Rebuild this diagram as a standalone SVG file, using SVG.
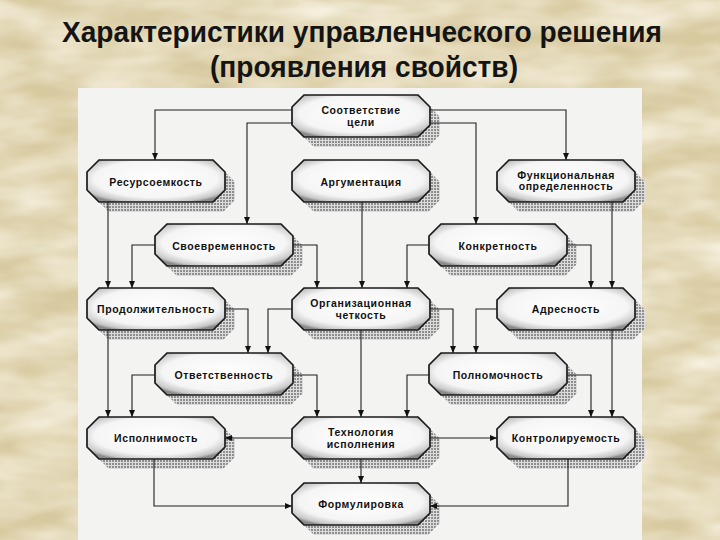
<svg xmlns="http://www.w3.org/2000/svg" width="720" height="540" viewBox="0 0 720 540">
<defs>
<style>
.t{font-family:"Liberation Sans",Arial,sans-serif;font-weight:bold;font-size:10.5px;letter-spacing:0.6px;text-anchor:middle;fill:#111}
.title{font-family:"Liberation Sans",Arial,sans-serif;font-weight:bold;font-size:29px;text-anchor:middle;fill:#141414}
.box{fill:url(#boxg);stroke:#1a1a1a;stroke-width:1.7}
.sh{fill:url(#hatch)}
.c{fill:none;stroke:#1e1e1e;stroke-width:1.1;marker-end:url(#ah)}
</style>
<filter id="tex" x="0" y="0" width="100%" height="100%">
<feTurbulence type="fractalNoise" baseFrequency="0.012 0.035" numOctaves="3" seed="7"/>
<feColorMatrix type="matrix" values="0 0 0 0 0.95  0 0 0 0 0.91  0 0 0 0 0.79  0 0 0 -1.4 1.05"/>
</filter>
<radialGradient id="boxg" cx="50%" cy="45%" r="62%">
<stop offset="0" stop-color="#ffffff"/>
<stop offset="0.72" stop-color="#f5f5f5"/>
<stop offset="0.92" stop-color="#c8c8c8"/>
<stop offset="1" stop-color="#8a8a8a"/>
</radialGradient>
<pattern id="hatch" width="3" height="3" patternUnits="userSpaceOnUse">
<rect width="3" height="3" fill="#dcdcdc"/>
<rect width="2" height="2" fill="#8e8e8e"/>
</pattern>
<path id="oct" d="M12,0 H126 L138,12 V30 L126,42 H12 L0,30 V12 Z"/>
<marker id="ah" markerWidth="7" markerHeight="6" refX="7" refY="3" orient="auto" markerUnits="userSpaceOnUse">
<path d="M0,0 L7,3 L0,6 Z" fill="#111"/>
</marker>
</defs>

<rect width="720" height="540" fill="#d8caa0"/>
<rect width="720" height="540" filter="url(#tex)"/>
<rect x="78" y="88" width="564" height="452" fill="#f3f3f1"/>

<text class="title" x="362" y="42" textLength="600" lengthAdjust="spacingAndGlyphs">Характеристики управленческого решения</text>
<text class="title" x="364" y="77" textLength="308" lengthAdjust="spacingAndGlyphs">(проявления свойств)</text>

<g id="n-sootvetstvie" transform="translate(292,95)">
<use href="#oct" class="sh" x="10" y="10"/><use href="#oct" class="box"/>
<text class="t" x="69" y="19">Соответствие</text><text class="t" x="69" y="31">цели</text>
</g>
<g id="n-resursoemkost" transform="translate(87,160)">
<use href="#oct" class="sh" x="10" y="10"/><use href="#oct" class="box"/>
<text class="t" x="69" y="26">Ресурсоемкость</text>
</g>
<g id="n-argumentaciya" transform="translate(292,160)">
<use href="#oct" class="sh" x="10" y="10"/><use href="#oct" class="box"/>
<text class="t" x="69" y="26">Аргументация</text>
</g>
<g id="n-funkcionalnaya" transform="translate(497,160)">
<use href="#oct" class="sh" x="10" y="10"/><use href="#oct" class="box"/>
<text class="t" x="69" y="19">Функциональная</text><text class="t" x="69" y="30">определенность</text>
</g>
<g id="n-svoevremennost" transform="translate(155,224)">
<use href="#oct" class="sh" x="10" y="10"/><use href="#oct" class="box"/>
<text class="t" x="69" y="26">Своевременность</text>
</g>
<g id="n-konkretnost" transform="translate(429,224)">
<use href="#oct" class="sh" x="10" y="10"/><use href="#oct" class="box"/>
<text class="t" x="69" y="26">Конкретность</text>
</g>
<g id="n-prodolzhitelnost" transform="translate(87,288)">
<use href="#oct" class="sh" x="10" y="10"/><use href="#oct" class="box"/>
<text class="t" x="69" y="25">Продолжительность</text>
</g>
<g id="n-organizacionnaya" transform="translate(292,288)">
<use href="#oct" class="sh" x="10" y="10"/><use href="#oct" class="box"/>
<text class="t" x="69" y="19">Организационная</text><text class="t" x="69" y="31">четкость</text>
</g>
<g id="n-adresnost" transform="translate(497,288)">
<use href="#oct" class="sh" x="10" y="10"/><use href="#oct" class="box"/>
<text class="t" x="69" y="25">Адресность</text>
</g>
<g id="n-otvetstvennost" transform="translate(155,353)">
<use href="#oct" class="sh" x="10" y="10"/><use href="#oct" class="box"/>
<text class="t" x="69" y="26">Ответственность</text>
</g>
<g id="n-polnomochnost" transform="translate(429,353)">
<use href="#oct" class="sh" x="10" y="10"/><use href="#oct" class="box"/>
<text class="t" x="69" y="26">Полномочность</text>
</g>
<g id="n-ispolnimost" transform="translate(87,417)">
<use href="#oct" class="sh" x="10" y="10"/><use href="#oct" class="box"/>
<text class="t" x="69" y="25">Исполнимость</text>
</g>
<g id="n-tehnologiya" transform="translate(292,417)">
<use href="#oct" class="sh" x="10" y="10"/><use href="#oct" class="box"/>
<text class="t" x="69" y="19">Технология</text><text class="t" x="69" y="31">исполнения</text>
</g>
<g id="n-kontroliruemost" transform="translate(497,417)">
<use href="#oct" class="sh" x="10" y="10"/><use href="#oct" class="box"/>
<text class="t" x="69" y="25">Контролируемость</text>
</g>
<g id="n-formulirovka" transform="translate(292,483)">
<use href="#oct" class="sh" x="10" y="10"/><use href="#oct" class="box"/>
<text class="t" x="69" y="25">Формулировка</text>
</g>

<g id="connectors">
<path class="c" d="M292,110 H155 V160"/>
<path class="c" d="M293,123 H247 V224"/>
<path class="c" d="M430,110 H566 V160"/>
<path class="c" d="M429,123 H476 V224"/>
<path class="c" d="M108,202 V288"/>
<path class="c" d="M362,202 V288"/>
<path class="c" d="M612,202 V288"/>
<path class="c" d="M155,245 H132 V288"/>
<path class="c" d="M293,245 H317 V288"/>
<path class="c" d="M429,245 H407 V288"/>
<path class="c" d="M567,245 H591 V288"/>
<path class="c" d="M225,309 H248 V353"/>
<path class="c" d="M108,330 V417"/>
<path class="c" d="M292,309 H268 V353"/>
<path class="c" d="M430,309 H453 V353"/>
<path class="c" d="M361,330 V417"/>
<path class="c" d="M497,309 H476 V353"/>
<path class="c" d="M612,330 V417"/>
<path class="c" d="M155,375 H132 V417"/>
<path class="c" d="M293,375 H317 V417"/>
<path class="c" d="M429,375 H407 V417"/>
<path class="c" d="M567,375 H591 V417"/>
<path class="c" d="M292,438 H225"/>
<path class="c" d="M430,438 H497"/>
<path class="c" d="M361,459 V483"/>
<path class="c" d="M154,459 V506 H292"/>
<path class="c" d="M568,459 V506 H430"/>
</g>
</svg>
